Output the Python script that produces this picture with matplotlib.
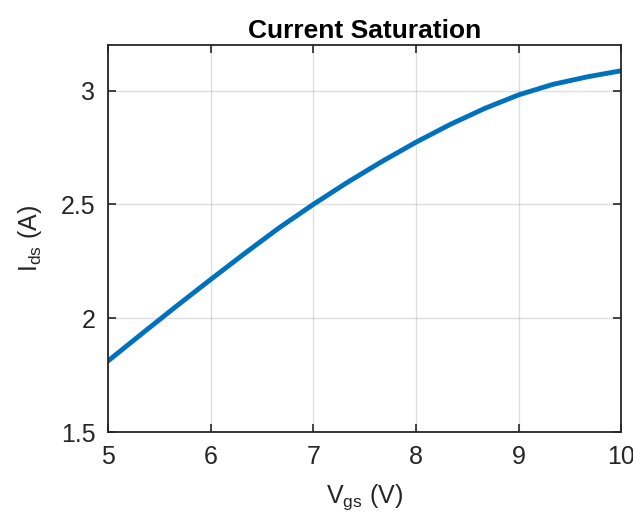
import matplotlib
matplotlib.use('Agg')
import matplotlib.pyplot as plt

vgs = [5.0, 5.333, 5.667, 6.0, 6.333, 6.667, 7.0, 7.333, 7.667, 8.0,
       8.333, 8.667, 9.0, 9.333, 9.667, 10.0]
ids = [1.812, 1.933, 2.053, 2.170, 2.285, 2.397, 2.500, 2.597, 2.688, 2.773,
       2.851, 2.921, 2.981, 3.027, 3.060, 3.087]
xticks = [5, 6, 7, 8, 9, 10]
yticks = [1.5, 2, 2.5, 3]

plt.rcParams['font.family'] = ['Liberation Sans', 'DejaVu Sans']
plt.rcParams['mathtext.fontset'] = 'custom'
plt.rcParams['mathtext.rm'] = 'Liberation Sans'

fig = plt.figure(figsize=(6.33, 5.19), dpi=100)
ax = fig.add_axes([0.1706, 0.1676, 0.811, 0.7457])

ax.plot(vgs, ids, color='#0072BD', linewidth=3.5, solid_joinstyle='round')
ax.set_xlim(5, 10)
ax.set_ylim(1.5, 3.2)
ax.set_xticks(xticks)
ax.set_yticks(yticks)
ax.set_yticklabels(['1.5', '2', '2.5', '3'])
ax.grid(True, color='#262626', alpha=0.15, linewidth=1)
ax.tick_params(direction='in', length=6, width=1.2, top=True, right=True,
               labelsize=18, colors='#262626', pad=9)
for s in ax.spines.values():
    s.set_color('#262626')
    s.set_linewidth(1.3)

ax.set_title('Current Saturation', fontsize=19, fontweight='bold', pad=5)
ax.set_xlabel(r'$\mathregular{V_{gs}}$ (V)', fontsize=18, color='#262626', labelpad=10)
ax.set_ylabel(r'$\mathregular{I_{ds}}$ (A)', fontsize=18, color='#262626', labelpad=12)

fig.savefig('out.png', dpi=100)
